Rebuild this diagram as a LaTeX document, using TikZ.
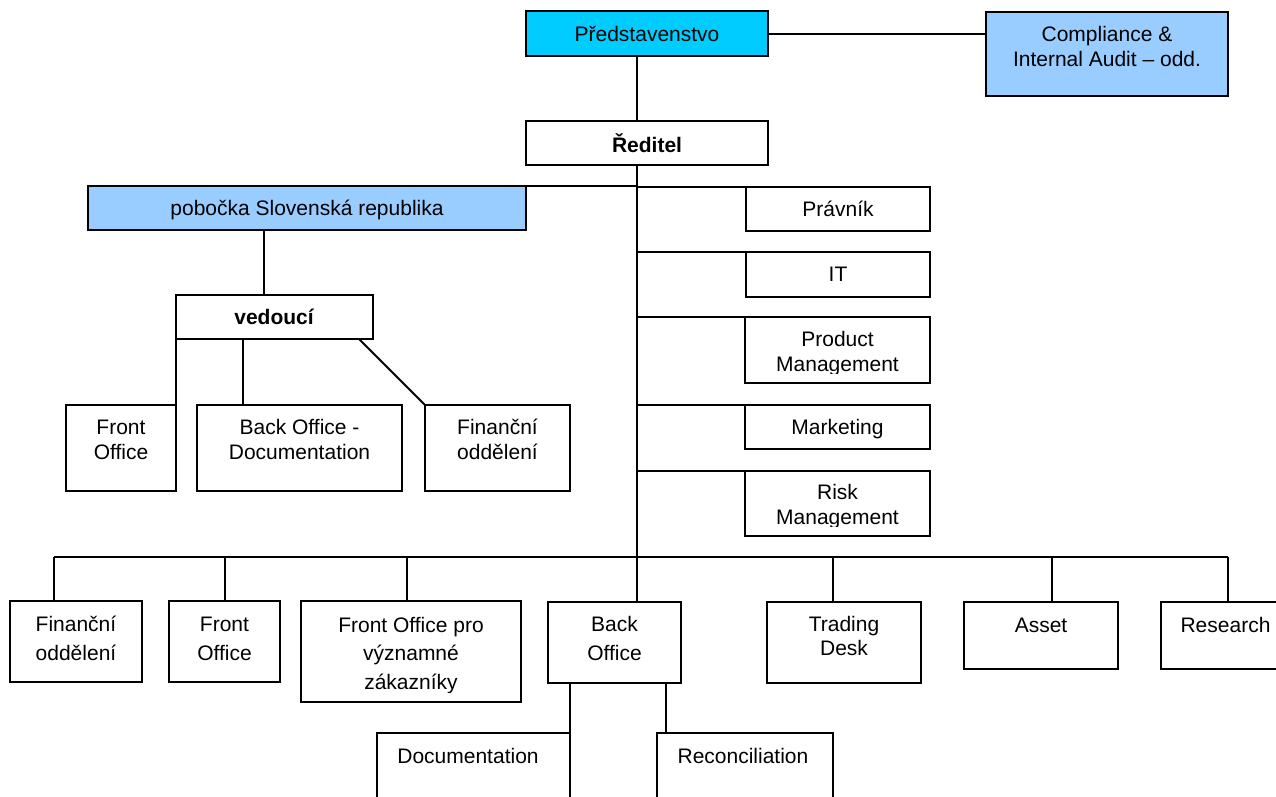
\documentclass[tikz,border=0pt]{standalone}
\usepackage{fontspec}
\setmainfont{Liberation Sans}
\definecolor{boardcyan}{HTML}{00CCFF}
\definecolor{lightblue}{HTML}{99CCFF}
\begin{document}
\begin{tikzpicture}[x=1pt,y=-1pt,
  box/.style={draw=black, line width=2pt, inner sep=0pt, outer sep=0pt},
  conn/.style={draw=black, line width=2pt},
  txt/.style={font=\fontsize{21}{24.5}\selectfont, inner sep=0pt, outer sep=0pt, align=center, anchor=base},
  txtw/.style={txt, font=\fontsize{21}{28.5}\selectfont},
  txtb/.style={txt, font=\bfseries\fontsize{21}{24.5}\selectfont}]
\useasboundingbox (0,0) rectangle (1276,796);
\clip (0,0) rectangle (1276,796);

% boxes
\node[box, fill=boardcyan, minimum width=242pt, minimum height=45pt] (pred) at (647,33.5) {};
\node[box, fill=lightblue, minimum width=242pt, minimum height=84pt] (comp) at (1107,54) {};
\node[box, minimum width=242pt, minimum height=44pt] (red) at (647,143) {};
\node[box, fill=lightblue, minimum width=438pt, minimum height=44pt] (pob) at (307,208) {};
\node[box, minimum width=197pt, minimum height=44pt] (ved) at (274.5,317) {};
\node[box, minimum width=110pt, minimum height=86pt] (fo1) at (121,448) {};
\node[box, minimum width=205pt, minimum height=86pt] (bod) at (299.5,448) {};
\node[box, minimum width=145pt, minimum height=86pt] (fin1) at (497.5,448) {};
\node[box, minimum width=184pt, minimum height=44pt] (prav) at (838,209) {};
\node[box, minimum width=184pt, minimum height=45pt] (it) at (838,274.5) {};
\node[box, minimum width=185pt, minimum height=66pt] (pm) at (837.5,350) {};
\node[box, minimum width=185pt, minimum height=44pt] (mkt) at (837.5,427) {};
\node[box, minimum width=185pt, minimum height=65pt] (risk) at (837.5,503.5) {};
\node[box, minimum width=132pt, minimum height=81pt] (fin2) at (76,641.5) {};
\node[box, minimum width=111pt, minimum height=81pt] (fo2) at (224.5,641.5) {};
\node[box, minimum width=220pt, minimum height=101pt] (fov) at (411,651.5) {};
\node[box, minimum width=133pt, minimum height=81pt] (bo) at (614.5,642.5) {};
\node[box, minimum width=154pt, minimum height=81pt] (td) at (844,642.5) {};
\node[box, minimum width=154pt, minimum height=67pt] (asset) at (1041,635.5) {};
\node[box, minimum width=129pt, minimum height=67pt] (res) at (1225.5,635.5) {};
\node[box, minimum width=193pt, minimum height=87pt] (doc) at (473.5,776.5) {};
\node[box, minimum width=176pt, minimum height=87pt] (rec) at (745,776.5) {};

% texts (anchor = baseline of the last line)
\node[txt] (t-pred) at (647,41) {Představenstvo};
\node[txt] (t-comp) at (1107,66) {Compliance \&\\Internal Audit – odd.};
\node[txtb] (t-red) at (647,152) {Ředitel};
\node[txt] (t-pob) at (307,215) {pobočka Slovenská republika};
\node[txtb] (t-ved) at (274,324) {vedoucí};
\node[txt] (t-fo1) at (121,459) {Front\\Office};
\node[txt] (t-bod) at (299.5,459) {Back Office -\\Documentation};
\node[txt] (t-fin1) at (497.5,459) {Finanční\\oddělení};
\node[txt] (t-prav) at (838,216) {Právník};
\node[txt] (t-it) at (838,281) {IT};
\begin{scope}
  \clip (pm.north west) rectangle ([yshift=10pt]pm.south east);
  \node[txt] (t-pm) at (837.5,371) {Product\\Management};
\end{scope}
\node[txt] (t-mkt) at (837.5,434) {Marketing};
\begin{scope}
  \clip (risk.north west) rectangle ([yshift=10pt]risk.south east);
  \node[txt] (t-risk) at (837.5,524) {Risk\\Management};
\end{scope}
\node[txtw] (t-fin2) at (76,660) {Finanční\\oddělení};
\node[txtw] (t-fo2) at (224.5,660) {Front\\Office};
\begin{scope}
  \clip (fov.north west) rectangle ([yshift=10pt]fov.south east);
  \node[txtw] (t-fov) at (411,689) {Front Office pro\\významné\\zákazníky};
\end{scope}
\node[txtw] (t-bo) at (614.5,660) {Back\\Office};
\node[txt] (t-td) at (844,655.5) {Trading\\Desk};
\node[txt] (t-asset) at (1041,632) {Asset};
\node[txt] (t-res) at (1225.5,632) {Research};
\node[txt] (t-doc) at (468,763) {Documentation};
\node[txt] (t-rec) at (743,763) {Reconciliation};

% helper coordinates
\coordinate (tk) at (637,0);
\coordinate (pv) at (264,0);
\coordinate (bv) at (242.5,0);
\coordinate (dv) at (359,0);
\coordinate (busL) at (54,557);
\coordinate (busR) at (1228,557);
\coordinate (d3) at (406.5,557);
\coordinate (d5) at (833,557);
\coordinate (d6) at (1052,557);
\coordinate (rv) at (666,0);

% connectors
\draw[conn] (pred.east) -- (pred.east -| comp.west);
\draw[conn] (pred.south -| tk) -- (red.north -| tk);
\draw[conn] (red.south -| tk) -- (bo.north -| tk);
\draw[conn] (pob.north east) -- (pob.north east -| tk);
\draw[conn] (tk |- prav.north west) -- (prav.north west);
\draw[conn] (tk |- it.north west) -- (it.north west);
\draw[conn] (tk |- pm.north west) -- (pm.north west);
\draw[conn] (tk |- mkt.north west) -- (mkt.north west);
\draw[conn] (tk |- risk.north west) -- (risk.north west);
\draw[conn] (pob.south -| pv) -- (ved.north -| pv);
\draw[conn] (ved.south west) -- (fo1.north east);
\draw[conn] (ved.south -| bv) -- (bod.north -| bv);
\draw[conn] (ved.south -| dv) -- (fin1.north west);
\draw[conn] (busL) -- (busR);
\draw[conn] (busL) -- (fin2.north -| busL);
\draw[conn] (fo2.north |- busL) -- (fo2.north);
\draw[conn] (d3) -- (fov.north -| d3);
\draw[conn] (d5) -- (td.north -| d5);
\draw[conn] (d6) -- (asset.north -| d6);
\draw[conn] (busR) -- (res.north -| busR);
\draw[conn] (bo.south -| doc.east) -- (doc.north east);
\draw[conn] (bo.south -| rv) -- (rec.north -| rv);
\end{tikzpicture}
\end{document}
